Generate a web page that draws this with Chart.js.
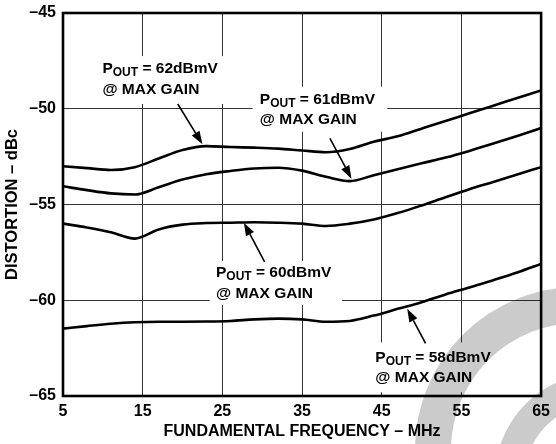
<!DOCTYPE html>
<html>
<head>
<meta charset="utf-8">
<script src="https://cdn.jsdelivr.net/npm/chart.js@4.4.1/dist/chart.umd.min.js"></script>
<style>
  html, body { margin: 0; padding: 0; background: #ffffff; }
  #wrap { width: 556px; height: 444px; }
</style>
</head>
<body>
<div id="wrap"><canvas id="chart" width="556" height="444"></canvas></div>
<script>
// fundamental frequency, MHz
const freqMHz = [5, 8, 11, 14, 17, 20, 23, 26, 29, 32, 35, 38, 41, 44, 47, 50, 53, 56, 59, 62, 65];

// distortion, dBc
const pout62 = [-53.0, -53.1, -53.2, -53.05, -52.6, -52.15, -51.95, -52.0, -52.03, -52.08, -52.18, -52.27, -52.1, -51.72, -51.44, -51.04, -50.64, -50.24, -49.84, -49.44, -49.04];
const pout61 = [-54.05, -54.25, -54.42, -54.48, -54.1, -53.7, -53.42, -53.25, -53.12, -53.08, -53.23, -53.55, -53.78, -53.47, -53.16, -52.85, -52.55, -52.2, -51.82, -51.42, -51.01];
const pout60 = [-56.0, -56.2, -56.45, -56.78, -56.3, -56.05, -55.97, -55.95, -55.93, -55.95, -56.0, -56.12, -56.0, -55.78, -55.45, -55.05, -54.62, -54.2, -53.82, -53.43, -53.05];
const pout58 = [-61.48, -61.35, -61.23, -61.15, -61.12, -61.12, -61.11, -61.08, -61.0, -60.96, -61.0, -61.12, -61.08, -60.8, -60.45, -60.1, -59.7, -59.33, -58.95, -58.55, -58.1];

const xTicks = [5, 15, 25, 35, 45, 55, 65];
const yTicks = [-65, -60, -55, -50, -45];

// callouts: text anchor (x, y of first baseline), box, arrow tail -> tip, all in data units
const callouts = [
  { level: "62", tx: 9.95, ty: -48.15, box: [8.9, 25.9, -47.25, -49.75], arrow: [19.4, -49.75, 22.5, -51.85] },
  { level: "61", tx: 29.7, ty: -49.75, box: [28.8, 45.7, -48.85, -51.2], arrow: [38.5, -51.55, 41.2, -53.65] },
  { level: "60", tx: 24.2, ty: -58.8, box: [23.4, 40.0, -57.95, -60.25], arrow: [30.3, -58.0, 27.7, -55.95] },
  { level: "58", tx: 44.2, ty: -63.2, box: [43.0, 60.0, -62.2, -64.8], arrow: [50.5, -62.25, 48.2, -60.45] }
];

const labelFont = "bold 15.5px 'Liberation Sans', Arial, sans-serif";
const subFont = "bold 12px 'Liberation Sans', Arial, sans-serif";

function makeSeries(values) {
  return {
    data: freqMHz.map((f, i) => ({ x: f, y: values[i] })),
    borderColor: "#000000",
    borderWidth: 2.6,
    pointRadius: 0,
    cubicInterpolationMode: "monotone",
    fill: false
  };
}

const calloutBoxes = {
  id: "calloutBoxes",
  beforeDatasetsDraw(chart) {
    const ctx = chart.ctx;
    const xs = chart.scales.x, ys = chart.scales.y;
    ctx.save();
    ctx.fillStyle = "#ffffff";
    callouts.forEach(c => {
      const x0 = xs.getPixelForValue(c.box[0]);
      const x1 = xs.getPixelForValue(c.box[1]);
      const y0 = ys.getPixelForValue(c.box[2]);
      const y1 = ys.getPixelForValue(c.box[3]);
      ctx.fillRect(x0, y0, x1 - x0, y1 - y0);
    });
    ctx.restore();
  },
  afterDatasetsDraw(chart) {
    const ctx = chart.ctx;
    const xs = chart.scales.x, ys = chart.scales.y;
    const area = chart.chartArea;
    ctx.save();
    // frame
    ctx.strokeStyle = "#000000";
    ctx.lineWidth = 2.6;
    ctx.strokeRect(area.left, area.top, area.right - area.left, area.bottom - area.top);

    callouts.forEach(c => {
      const px = xs.getPixelForValue(c.tx);
      const py = ys.getPixelForValue(c.ty);
      ctx.fillStyle = "#000000";
      ctx.textBaseline = "alphabetic";
      ctx.textAlign = "left";
      ctx.font = labelFont;
      ctx.fillText("P", px, py);
      let w = ctx.measureText("P").width;
      ctx.font = subFont;
      ctx.fillText("OUT", px + w, py + 3);
      w += ctx.measureText("OUT").width;
      ctx.font = labelFont;
      ctx.fillText(" = " + c.level + "dBmV", px + w, py);
      ctx.fillText("@ MAX GAIN", px, py + 20.5);

      // arrow
      const ax0 = xs.getPixelForValue(c.arrow[0]);
      const ay0 = ys.getPixelForValue(c.arrow[1]);
      const ax1 = xs.getPixelForValue(c.arrow[2]);
      const ay1 = ys.getPixelForValue(c.arrow[3]);
      const ang = Math.atan2(ay1 - ay0, ax1 - ax0);
      const head = 13, half = 4.5;
      const bx = ax1 - head * Math.cos(ang);
      const by = ay1 - head * Math.sin(ang);
      ctx.strokeStyle = "#000000";
      ctx.lineWidth = 1.6;
      ctx.beginPath();
      ctx.moveTo(ax0, ay0);
      ctx.lineTo(bx, by);
      ctx.stroke();
      ctx.beginPath();
      ctx.moveTo(ax1, ay1);
      ctx.lineTo(bx + half * Math.sin(ang), by - half * Math.cos(ang));
      ctx.lineTo(bx - half * Math.sin(ang), by + half * Math.cos(ang));
      ctx.closePath();
      ctx.fill();
    });
    ctx.restore();
  },
  afterDraw(chart) {
    // grey watermark strokes
    const ctx = chart.ctx;
    ctx.save();
    ctx.globalCompositeOperation = "multiply";
    ctx.strokeStyle = "#cbcbcb";
    ctx.lineWidth = 36;
    ctx.beginPath();
    ctx.arc(578, 450, 145, Math.PI, Math.PI * 1.5);
    ctx.stroke();
    ctx.lineWidth = 30;
    ctx.beginPath();
    ctx.arc(600, 478, 90, Math.PI, Math.PI * 1.5);
    ctx.stroke();
    ctx.restore();
  }
};

const tickFont = { family: "'Liberation Sans', Arial, sans-serif", size: 16, weight: "bold" };
const titleFont = { family: "'Liberation Sans', Arial, sans-serif", size: 16, weight: "bold" };
const yTitleFont = { family: "'Liberation Sans', Arial, sans-serif", size: 16.5, weight: "bold" };

new Chart(document.getElementById("chart"), {
  type: "line",
  data: {
    datasets: [makeSeries(pout62), makeSeries(pout61), makeSeries(pout60), makeSeries(pout58)]
  },
  options: {
    responsive: false,
    animation: false,
    events: [],
    layout: { padding: { left: 0, right: 14, top: 13, bottom: 0 } },
    plugins: {
      legend: { display: false },
      tooltip: { enabled: false }
    },
    scales: {
      x: {
        type: "linear",
        min: 5,
        max: 65,
        afterBuildTicks(scale) { scale.ticks = xTicks.map(v => ({ value: v })); },
        afterFit(scale) { scale.height = 48; },
        ticks: { color: "#000000", font: tickFont, padding: 6, maxRotation: 0 },
        grid: { color: "#333333", lineWidth: 1, drawTicks: false },
        border: { display: false },
        title: {
          display: true,
          text: "FUNDAMENTAL FREQUENCY – MHz",
          color: "#000000",
          font: titleFont,
          padding: { top: 0, bottom: 3 }
        }
      },
      y: {
        type: "linear",
        min: -65,
        max: -45,
        afterBuildTicks(scale) { scale.ticks = yTicks.map(v => ({ value: v })); },
        afterFit(scale) {
          scale.width = 63;
          scale.paddingTop = 0;
          scale.paddingBottom = 0;
        },
        ticks: {
          color: "#000000",
          font: tickFont,
          padding: 7,
          callback: v => String(v).replace("-", "–")
        },
        grid: { color: "#333333", lineWidth: 1, drawTicks: false },
        border: { display: false },
        title: {
          display: true,
          text: "DISTORTION – dBc",
          color: "#000000",
          font: yTitleFont,
          padding: { top: 3, bottom: 0 }
        }
      }
    }
  },
  plugins: [calloutBoxes]
});
</script>
</body>
</html>
